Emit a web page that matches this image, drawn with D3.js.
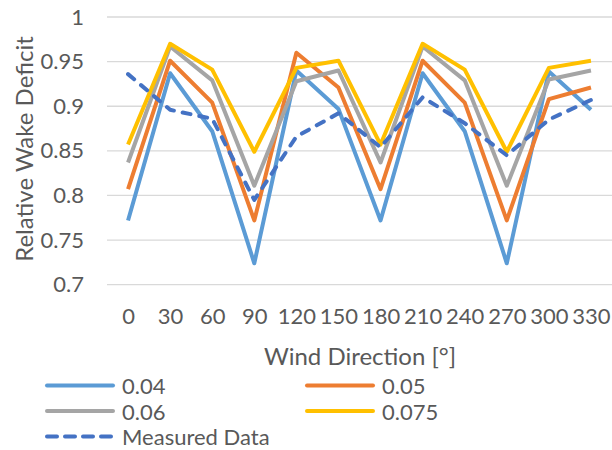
<!DOCTYPE html>
<html>
<head>
<meta charset="utf-8">
<script src="https://cdn.jsdelivr.net/npm/d3@7"></script>
<style>
  html, body { margin: 0; padding: 0; background: #fff; }
  svg { display: block; }
  text { font-family: Lato, "Open Sans", sans-serif; fill: #595959; }
</style>
</head>
<body>
<svg id="chart" width="612" height="450"></svg>
<script>
// Wind directions (degrees)
const directions = [0, 30, 60, 90, 120, 150, 180, 210, 240, 270, 300, 330];

// Modelled relative wake deficit for each wake decay constant
const k004  = [0.772, 0.937, 0.872, 0.724, 0.940, 0.897, 0.772, 0.937, 0.872, 0.724, 0.939, 0.896];
const k005  = [0.807, 0.951, 0.904, 0.772, 0.960, 0.921, 0.807, 0.951, 0.904, 0.772, 0.908, 0.921];
const k006  = [0.837, 0.967, 0.929, 0.811, 0.928, 0.940, 0.837, 0.967, 0.929, 0.811, 0.930, 0.940];
const k0075 = [0.857, 0.970, 0.941, 0.849, 0.943, 0.951, 0.857, 0.970, 0.941, 0.849, 0.943, 0.951];

// Measured relative wake deficit
const measured = [0.936, 0.896, 0.886, 0.795, 0.866, 0.892, 0.854, 0.910, 0.881, 0.845, 0.885, 0.907];

const yTicks = [0.7, 0.75, 0.8, 0.85, 0.9, 0.95, 1];
const yTickLabels = ["0.7", "0.75", "0.8", "0.85", "0.9", "0.95", "1"];

const series = [
  { name: "0.04",  values: k004,     color: "#5B9BD5", dashed: false },
  { name: "0.05",  values: k005,     color: "#ED7D31", dashed: false },
  { name: "0.06",  values: k006,     color: "#A5A5A5", dashed: false },
  { name: "0.075", values: k0075,    color: "#FFC000", dashed: false },
  { name: "Measured Data", values: measured, color: "#4472C4", dashed: true }
];

const svg = d3.select("#chart");
const plot = { left: 107, right: 612, top: 17, bottom: 284.7 };

const x = d3.scalePoint().domain(directions).range([plot.left, plot.right]).padding(0.5);
const y = d3.scaleLinear().domain([0.7, 1]).range([plot.bottom, plot.top]);

// Horizontal gridlines
svg.append("g")
  .selectAll("line")
  .data(yTicks)
  .join("line")
  .attr("x1", plot.left).attr("x2", plot.right)
  .attr("y1", d => y(d)).attr("y2", d => y(d))
  .attr("stroke", "#D9D9D9").attr("stroke-width", 1.3);

// Y axis labels
const yAxis = d3.axisLeft(y).tickValues(yTicks)
  .tickFormat((d, i) => yTickLabels[i]).tickSize(0).tickPadding(0);
svg.append("g")
  .attr("transform", `translate(84,0)`)
  .call(yAxis)
  .call(g => g.select(".domain").remove())
  .call(g => g.selectAll("text")
    .attr("font-family", "Lato, 'Open Sans', sans-serif")
    .attr("font-size", 22).attr("fill", "#595959"));

// X axis labels
const xAxis = d3.axisBottom(x).tickSize(0).tickPadding(0);
svg.append("g")
  .attr("transform", `translate(0,${plot.bottom + 24})`)
  .call(xAxis)
  .call(g => g.select(".domain").remove())
  .call(g => g.selectAll("text")
    .attr("font-family", "Lato, 'Open Sans', sans-serif")
    .attr("font-size", 22).attr("fill", "#595959"));

// Series lines
const line = d3.line()
  .x((d, i) => x(directions[i]))
  .y(d => y(d));

svg.append("g")
  .selectAll("path")
  .data(series)
  .join("path")
  .attr("d", s => line(s.values))
  .attr("fill", "none")
  .attr("stroke", s => s.color)
  .attr("stroke-width", 4)
  .attr("stroke-linejoin", "round")
  .attr("stroke-linecap", s => s.dashed ? "round" : "butt")
  .attr("stroke-dasharray", s => s.dashed ? "8,9" : null);

// Axis titles
svg.append("text")
  .attr("transform", "translate(23,149) rotate(-90)")
  .attr("text-anchor", "middle")
  .attr("dominant-baseline", "central")
  .attr("font-size", 24)
  .text("Relative Wake Deficit");

svg.append("text")
  .attr("x", 360).attr("y", 355)
  .attr("text-anchor", "middle")
  .attr("dominant-baseline", "central")
  .attr("font-size", 24)
  .text("Wind Direction [°]");

// Legend
const legendPos = [
  { x: 45,  y: 385.5 },
  { x: 305, y: 385.5 },
  { x: 45,  y: 411 },
  { x: 305, y: 411 },
  { x: 45,  y: 436.5 }
];
const legend = svg.append("g")
  .selectAll("g")
  .data(series)
  .join("g")
  .attr("transform", (s, i) => `translate(${legendPos[i].x},${legendPos[i].y})`);

legend.append("line")
  .attr("x1", 2).attr("x2", 68)
  .attr("y1", 0).attr("y2", 0)
  .attr("stroke", s => s.color)
  .attr("stroke-width", 4)
  .attr("stroke-linecap", "round")
  .attr("stroke-dasharray", s => s.dashed ? "10,8" : null);

legend.append("text")
  .attr("x", 77).attr("y", 0)
  .attr("dominant-baseline", "central")
  .attr("font-size", 22)
  .text(s => s.name);
</script>
</body>
</html>
